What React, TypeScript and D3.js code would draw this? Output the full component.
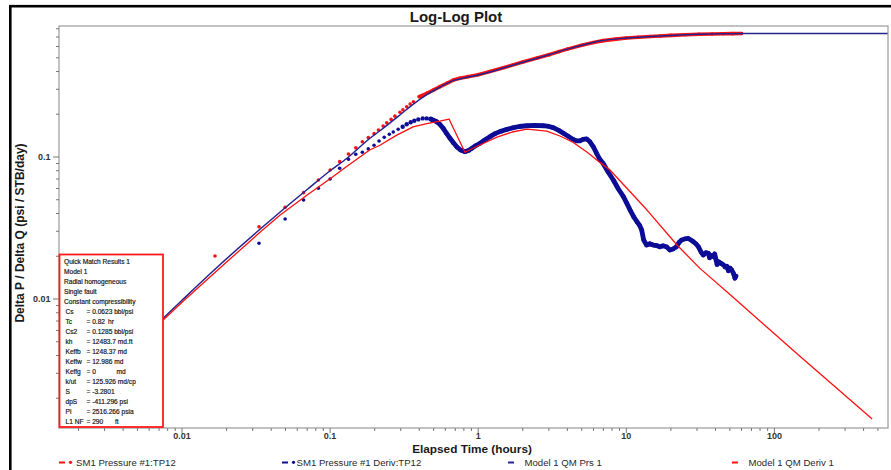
import React from "react";
import * as d3 from "d3";

const W = 891;
const H = 470;
const plot = { left: 59, right: 888, top: 26, bottom: 428 };

// Axis extents (hours, psi/(STB/day))
const xDomain: [number, number] = [0.001477, 584.8];
const yDomain: [number, number] = [0.001235, 0.8365];

const xTickLabels = ["0.01", "0.1", "1", "10", "100"];
const yTickLabels = ["0.01", "0.1"];

// SM1 Pressure #1:TP12 (measured delta P / delta Q)
const pressureTime = [
  0.0167, 0.0331, 0.0497, 0.0662, 0.0833, 0.1, 0.116, 0.133, 0.149, 0.165, 0.181, 0.198, 0.212, 0.228,
  0.241, 0.258, 0.274, 0.296, 0.31, 0.329, 0.347, 0.365, 0.4, 0.449, 0.497, 0.552, 0.613, 0.68, 0.75,
  0.85, 1.0, 1.2, 1.5, 2.0, 2.5, 3.0, 3.5, 4.0, 5.0, 6.0, 7.0, 8.5, 10, 12, 14.5, 17, 20, 25, 31, 38,
  45, 52, 60,
];
const pressureValue = [
  0.0201, 0.0323, 0.0442, 0.0561, 0.0689, 0.081, 0.0927, 0.105, 0.116, 0.128, 0.137, 0.146, 0.155, 0.165,
  0.174, 0.184, 0.194, 0.2065, 0.215, 0.226, 0.236, 0.245, 0.266, 0.281, 0.296, 0.313, 0.33, 0.348, 0.358,
  0.368, 0.38, 0.4, 0.427, 0.467, 0.497, 0.525, 0.552, 0.575, 0.612, 0.64, 0.66, 0.676, 0.688, 0.697,
  0.705, 0.712, 0.718, 0.725, 0.731, 0.735, 0.738, 0.739, 0.741,
];

// SM1 Pressure #1 Deriv:TP12 (measured Bourdet derivative)
const derivTime = [
  0.0331, 0.0497, 0.0662, 0.0833, 0.1, 0.116, 0.133, 0.149, 0.165, 0.181, 0.198, 0.214, 0.232, 0.251,
  0.267, 0.288, 0.309, 0.329, 0.35, 0.37, 0.394, 0.422, 0.449, 0.478, 0.525, 0.55, 0.581, 0.61, 0.645,
  0.68, 0.716, 0.76, 0.814, 0.86, 0.904, 0.96, 1.03, 1.1, 1.2, 1.3, 1.4, 1.55, 1.73, 1.9, 2.13, 2.4,
  2.75, 3.0, 3.21, 3.5, 3.76, 4.05, 4.38, 4.6, 4.86, 5.1, 5.39, 5.68, 5.99, 6.3, 6.6, 6.98, 7.5, 8.17,
  8.8, 9.56, 10.1, 10.6, 11.2, 11.8, 12.3, 12.7, 13.1, 13.7, 14.4, 15.2, 16.0, 16.8, 17.7, 18.7, 19.7,
  20.7, 21.8, 22.7, 23.6, 24.8, 26.2, 27.3, 28.4, 29.5, 30.7, 31.9, 33.1, 34.4, 35.8, 36.5, 37.3, 38.8,
  39.5, 40.3, 41.0, 42.0, 43.6, 45.3, 46.5, 47.7, 48.9, 50.2, 51.5, 52.8, 53.5, 54.1, 55.0,
];
const derivValue = [
  0.0247, 0.0366, 0.0498, 0.0602, 0.07, 0.0833, 0.0963, 0.1045, 0.108, 0.114, 0.121, 0.1296, 0.1376,
  0.1445, 0.15, 0.1567, 0.1634, 0.17, 0.1755, 0.18, 0.184, 0.187, 0.187, 0.185, 0.177, 0.17, 0.159,
  0.147, 0.1354, 0.126, 0.118, 0.112, 0.109, 0.111, 0.115, 0.12, 0.125, 0.131, 0.139, 0.146, 0.151,
  0.156, 0.161, 0.164, 0.166, 0.167, 0.166, 0.164, 0.161, 0.154, 0.147, 0.14, 0.133, 0.13, 0.13, 0.133,
  0.134, 0.128, 0.118, 0.106, 0.097, 0.09, 0.079, 0.0689, 0.06, 0.0526, 0.047, 0.0424, 0.038, 0.035,
  0.033, 0.0306, 0.026, 0.024, 0.0245, 0.024, 0.0238, 0.0233, 0.0237, 0.0233, 0.0221, 0.0225, 0.0233,
  0.025, 0.026, 0.0265, 0.0267, 0.026, 0.0253, 0.0245, 0.0233, 0.0215, 0.0204, 0.0212, 0.021, 0.0195,
  0.0203, 0.0199, 0.0208, 0.019, 0.0175, 0.0183, 0.0178, 0.0174, 0.0168, 0.017, 0.0158, 0.0165, 0.016,
  0.0152, 0.0147, 0.014, 0.0145,
];

// Model 1 QM Prs 1
const modelPrsTime = [
  0.0015, 0.003, 0.005, 0.01, 0.0167, 0.0336, 0.046, 0.07, 0.1, 0.13, 0.185, 0.217, 0.3, 0.363, 0.45,
  0.55, 0.676, 0.8, 1.0, 1.5, 2, 3, 4, 5, 6.6, 10, 14.5, 20, 31, 45, 60, 100, 584.8,
];
const modelPrsValue = [
  0.00148, 0.00296, 0.0049, 0.0098, 0.0162, 0.031, 0.041, 0.059, 0.08, 0.098, 0.135, 0.153, 0.2, 0.235,
  0.275, 0.31, 0.345, 0.36, 0.378, 0.425, 0.465, 0.525, 0.575, 0.612, 0.655, 0.688, 0.705, 0.718, 0.731,
  0.737, 0.74, 0.741, 0.741,
];

// Model 1 QM Deriv 1
const modelDerivTime = [
  0.0015, 0.003, 0.005, 0.01, 0.02, 0.0336, 0.046, 0.07, 0.1, 0.13, 0.185, 0.217, 0.28, 0.363, 0.45,
  0.55, 0.635, 0.813, 1.0, 1.34, 1.7, 2.13, 2.9, 3.6, 4.36, 5.5, 6.6, 7.76, 13.8, 22, 31.3, 52.6, 88,
  148, 250, 457,
];
const modelDerivValue = [
  0.00146, 0.0029, 0.0048, 0.0095, 0.0182, 0.0295, 0.039, 0.054, 0.0703, 0.086, 0.112, 0.121, 0.142,
  0.163, 0.172, 0.179, 0.185, 0.108, 0.12, 0.138, 0.15, 0.157, 0.152, 0.14, 0.127, 0.107, 0.092, 0.081,
  0.0423, 0.024, 0.0165, 0.0103, 0.0064, 0.00397, 0.00247, 0.00143,
];

const legendLabels = [
  "SM1 Pressure #1:TP12",
  "SM1 Pressure #1 Deriv:TP12",
  "Model 1 QM Prs 1",
  "Model 1 QM Deriv 1",
];

const resultHeader = [
  "Quick Match Results 1",
  "Model 1",
  "Radial homogeneous",
  "Single fault",
  "Constant compressibility",
];
const resultKeys = ["Cs", "Tc", "Cs2", "kh", "Keffb", "Keffw", "Keffg", "k/ut", "S", "dpS", "Pi", "L1 NF"];
const resultValues = [
  "= 0.0623 bbl/psi",
  "= 0.82",
  "= 0.1285 bbl/psi",
  "= 12483.7 md.ft",
  "= 1248.37 md",
  "= 12.986 md",
  "= 0",
  "= 125.926 md/cp",
  "= -3.2801",
  "= -411.296 psi",
  "= 2516.266 psia",
  "= 290",
];
const resultUnits = ["", "hr", "", "", "", "", "md", "", "", "", "", "ft"];

const RED = "#ff1010";
const NAVY = "#0c0c96";
const MODEL_BLUE = "#24248e";
const FONT = "'Liberation Sans', Arial, sans-serif";

// measured series are drawn as a continuous band once sampling gets dense
const PRESSURE_BAND_FROM = 0.4;
const DERIV_BAND_FROM = 0.45;

type Pt = [number, number];
const zip = (a: number[], b: number[]): Pt[] => a.map((t, i) => [t, b[i]]);

export default function App() {
  const x = d3.scaleLog().domain(xDomain).range([plot.left, plot.right]);
  const y = d3.scaleLog().domain(yDomain).range([plot.bottom, plot.top]);

  const straight = d3
    .line<Pt>()
    .x((d) => x(d[0]))
    .y((d) => y(d[1]));
  const smooth = d3
    .line<Pt>()
    .x((d) => x(d[0]))
    .y((d) => y(d[1]))
    .curve(d3.curveMonotoneX);

  const pressure = zip(pressureTime, pressureValue);
  const deriv = zip(derivTime, derivValue);
  const modelPrs = zip(modelPrsTime, modelPrsValue);
  const modelDeriv = zip(modelDerivTime, modelDerivValue);

  const isMajor = (v: number) => Math.abs(Math.log10(v) - Math.round(Math.log10(v))) < 1e-6;
  const xTicks = x.ticks();
  const yTicks = y.ticks();

  const boxX = 59.5;
  const boxY = 254.5;
  const unitX: Record<string, number> = { hr: 108, md: 116.5, ft: 115 };

  const legendX = [
    { marker: 59, text: 76, color: RED, dot: true },
    { marker: 282, text: 296.5, color: NAVY, dot: true },
    { marker: 508, text: 524.5, color: MODEL_BLUE, dot: false },
    { marker: 732, text: 748.5, color: RED, dot: false },
  ];

  return (
    <svg
      width={W}
      height={H}
      viewBox={`0 0 ${W} ${H}`}
      style={{ position: "absolute", left: 0, top: 0, background: "#fff" }}
      fontFamily={FONT}
    >
      <defs>
        <clipPath id="plot-area">
          <rect x={plot.left} y={plot.top} width={plot.right - plot.left} height={plot.bottom - plot.top} />
        </clipPath>
      </defs>

      {/* outer frame */}
      <rect x={10.3} y={6.2} width={W + 20} height={H + 20} fill="none" stroke="#000" strokeWidth={2.6} />

      <text x={456} y={22} textAnchor="middle" fontSize={15} fontWeight="bold" fill="#1a1a1a">
        Log-Log Plot
      </text>

      <g clipPath="url(#plot-area)">
        {/* measured pressure */}
        <path
          d={straight(pressure.filter((d) => d[0] >= PRESSURE_BAND_FROM)) || ""}
          fill="none"
          stroke={RED}
          strokeWidth={3.6}
          strokeLinejoin="round"
          strokeLinecap="round"
        />
        {pressure.map((d, i) => (
          <circle key={`p${i}`} cx={x(d[0])} cy={y(d[1])} r={1.8} fill={RED} />
        ))}

        {/* measured derivative */}
        <path
          d={straight(deriv.filter((d) => d[0] >= DERIV_BAND_FROM)) || ""}
          fill="none"
          stroke={NAVY}
          strokeWidth={4.8}
          strokeLinejoin="round"
          strokeLinecap="round"
        />
        {deriv.map((d, i) => (
          <circle key={`d${i}`} cx={x(d[0])} cy={y(d[1])} r={d[0] >= 0.3 ? 2.2 : 1.8} fill={NAVY} />
        ))}

        {/* model curves */}
        <path d={smooth(modelPrs) || ""} fill="none" stroke={MODEL_BLUE} strokeWidth={1.5} />
        <path d={straight(modelDeriv) || ""} fill="none" stroke={RED} strokeWidth={1.3} strokeLinejoin="round" />
      </g>

      {/* plot frame */}
      <rect
        x={plot.left}
        y={plot.top}
        width={plot.right - plot.left}
        height={plot.bottom - plot.top}
        fill="none"
        stroke="#9a9a9a"
        strokeWidth={1.2}
      />

      {/* x axis ticks */}
      {xTicks.map((t, i) => (
        <line
          key={`xt${i}`}
          x1={x(t)}
          x2={x(t)}
          y1={plot.bottom}
          y2={plot.bottom + (isMajor(t) ? 5 : 3)}
          stroke="#777"
          strokeWidth={1}
        />
      ))}
      {xTickLabels.map((lab) => (
        <text
          key={`xl${lab}`}
          x={x(+lab)}
          y={439}
          textAnchor="middle"
          fontSize={9}
          fontWeight="bold"
          fill="#333"
        >
          {lab}
        </text>
      ))}

      {/* y axis ticks */}
      {yTicks.map((t, i) => (
        <line
          key={`yt${i}`}
          x1={plot.left - (isMajor(t) ? 6 : 3)}
          x2={plot.left}
          y1={y(t)}
          y2={y(t)}
          stroke="#777"
          strokeWidth={1}
        />
      ))}
      {yTickLabels.map((lab) => (
        <text
          key={`yl${lab}`}
          x={50.5}
          y={y(+lab) + 3.2}
          textAnchor="end"
          fontSize={9}
          fontWeight="bold"
          fill="#333"
        >
          {lab}
        </text>
      ))}

      <text x={472} y={452.5} textAnchor="middle" fontSize={11.8} fontWeight="bold" fill="#1a1a1a">
        Elapsed Time (hours)
      </text>
      <text
        transform={`translate(24, ${(plot.top + plot.bottom) / 2 + 6}) rotate(-90)`}
        textAnchor="middle"
        fontSize={12}
        fontWeight="bold"
        fill="#1a1a1a"
      >
        Delta P / Delta Q (psi / STB/day)
      </text>

      {/* quick match results box */}
      <rect x={boxX} y={boxY} width={103.5} height={172.5} fill="#fff" stroke="#ff1a1a" strokeWidth={1.8} />
      <g fontSize={6.6} fill="#141414" stroke="#141414" strokeWidth={0.18}>
        {resultHeader.map((s, i) => (
          <text key={`h${i}`} x={64} y={boxY + 9.6 + i * 10}>
            {s}
          </text>
        ))}
        {resultKeys.map((k, i) => {
          const yy = boxY + 9.6 + (i + resultHeader.length) * 10;
          const u = resultUnits[i];
          return (
            <g key={`r${i}`}>
              <text x={65.5} y={yy}>
                {k}
              </text>
              <text x={86.5} y={yy}>
                {resultValues[i]}
              </text>
              {u ? (
                <text x={unitX[u]} y={yy}>
                  {u}
                </text>
              ) : null}
            </g>
          );
        })}
      </g>

      {/* legend */}
      {legendLabels.map((lab, i) => {
        const L = legendX[i];
        return (
          <g key={`lg${i}`}>
            <line x1={L.marker} x2={L.marker + 6} y1={462.5} y2={462.5} stroke={L.color} strokeWidth={2} />
            {L.dot ? <circle cx={L.marker + 11.5} cy={462.3} r={1.6} fill={L.color} /> : null}
            <text x={L.text} y={466.3} fontSize={9.6} fill="#2a2a2a">
              {lab}
            </text>
          </g>
        );
      })}
    </svg>
  );
}
